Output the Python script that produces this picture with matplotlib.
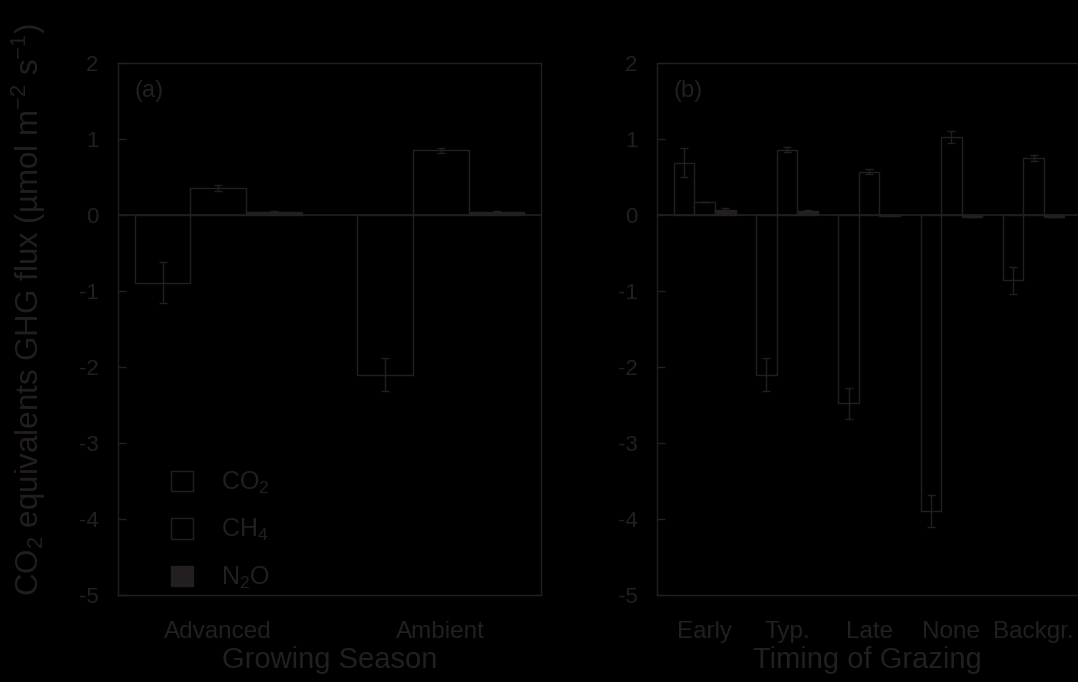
import matplotlib
matplotlib.use("Agg")
import matplotlib.pyplot as plt
from matplotlib.patches import Patch
import numpy as np

plt.rcParams['font.family'] = ['Liberation Sans', 'DejaVu Sans']
plt.rcParams['mathtext.fontset'] = 'custom'
plt.rcParams['mathtext.rm'] = 'Liberation Sans'
plt.rcParams['mathtext.it'] = 'Liberation Sans:italic'

INK = '#231f20'
BG = 'black'

# panel (a): growing season
season_labels = ["Advanced", "Ambient"]
season_co2 = [-0.89, -2.10]
season_co2_err = [0.27, 0.22]
season_ch4 = [0.36, 0.85]
season_ch4_err = [0.04, 0.03]
season_n2o = [0.04, 0.04]
season_n2o_err = [0.01, 0.01]

# panel (b): timing of grazing
grazing_labels = ["Early", "Typ.", "Late", "None", "Backgr."]
grazing_co2 = [0.69, -2.10, -2.48, -3.89, -0.86]
grazing_co2_err = [0.19, 0.22, 0.20, 0.21, 0.18]
grazing_ch4 = [0.17, 0.86, 0.57, 1.03, 0.75]
grazing_ch4_err = [0.0, 0.03, 0.03, 0.08, 0.04]
grazing_n2o = [0.07, 0.05, -0.01, -0.02, -0.02]
grazing_n2o_err = [0.02, 0.01, 0.0, 0.0, 0.0]

fig = plt.figure(figsize=(10.78, 6.82), dpi=100, facecolor=BG)
ax1 = fig.add_axes([0.1095, 0.1276, 0.3924, 0.780])
ax2 = fig.add_axes([0.6095, 0.1276, 0.3905, 0.780])


def draw_panel(ax, labels, co2, co2e, ch4, ch4e, n2o, n2oe, xlim, tag):
    ax.set_facecolor(BG)
    x = np.arange(len(labels))
    w = 0.25
    ek = dict(ecolor=INK, elinewidth=1.0, capsize=3, capthick=1.0)
    ax.bar(x - w, co2, w, facecolor=BG, edgecolor=INK, lw=1.0,
           yerr=co2e, error_kw=ek)
    ax.bar(x, ch4, w, facecolor=BG, edgecolor=INK, lw=1.0,
           yerr=ch4e, error_kw=ek)
    ax.bar(x + w, n2o, w, facecolor=INK, edgecolor=INK, lw=1.0,
           yerr=n2oe, error_kw=ek)
    ax.axhline(0, color=INK, lw=1.2)
    ax.set_xlim(*xlim)
    ax.set_ylim(-5, 2)
    ax.set_yticks(range(-5, 3))
    ax.set_yticklabels([str(v) for v in range(-5, 3)])
    ax.set_xticks(x)
    ax.set_xticklabels(labels)
    for s in ax.spines.values():
        s.set_color(INK)
        s.set_linewidth(1.0)
    ax.tick_params(axis='y', direction='in', length=6, width=1.0,
                   color=INK, labelcolor=INK, labelsize=16, pad=14)
    ax.tick_params(axis='x', length=0, labelcolor=INK, labelsize=17.5, pad=19)
    ax.text(0.04, 0.968, tag, transform=ax.transAxes, ha='left', va='top',
            fontsize=17, color=INK)


draw_panel(ax1, season_labels, season_co2, season_co2_err, season_ch4,
           season_ch4_err, season_n2o, season_n2o_err, (-0.45, 1.45), "(a)")
draw_panel(ax2, grazing_labels, grazing_co2, grazing_co2_err, grazing_ch4,
           grazing_ch4_err, grazing_n2o, grazing_n2o_err, (-0.58, 4.54), "(b)")

ax1.set_xlabel("Growing Season", fontsize=21, color=INK, labelpad=2)
ax2.set_xlabel("Timing of Grazing", fontsize=21, color=INK, labelpad=2)
fig.text(29 / 1078, 1 - 596 / 682,
         "CO$_2$ equivalents GHG flux (\u00b5mol m$^{-2}$ s$^{-1}$)",
         rotation=90, ha='center', va='bottom', fontsize=22.5, color=INK)

handles = [Patch(facecolor=BG, edgecolor=INK, lw=1.0),
           Patch(facecolor=BG, edgecolor=INK, lw=1.0),
           Patch(facecolor=INK, edgecolor=INK, lw=1.0)]
leg = ax1.legend(handles, ["CO$_2$", "CH$_4$", "N$_2$O"], loc='lower left',
                 bbox_to_anchor=(0.102, -0.011), frameon=False, fontsize=18,
                 handlelength=0.88, handleheight=0.88, handletextpad=1.1,
                 labelspacing=0.85, borderaxespad=0)
for t in leg.get_texts():
    t.set_color(INK)

fig.savefig("out.png", dpi=100, facecolor=BG)
